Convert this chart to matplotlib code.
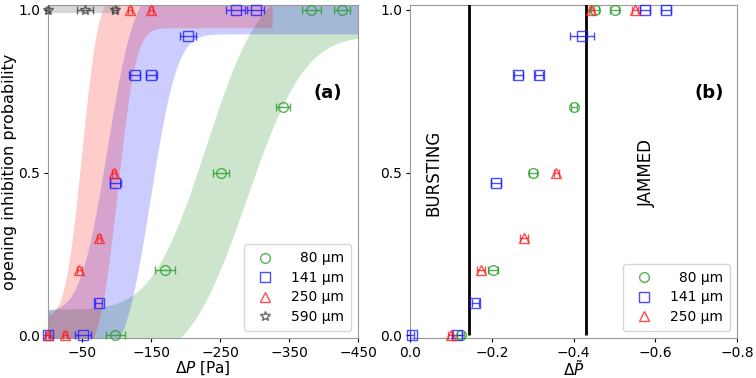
import math
import numpy as np
import matplotlib
matplotlib.use("Agg")
import matplotlib.pyplot as plt
from matplotlib.lines import Line2D

# ---- panel (a) data: dP [Pa], probability, x error ----
g_dp = [-98, -170, -251, -341, -382, -426]
g_pr = [0.0, 0.2, 0.5, 0.7, 1.0, 1.0]
g_er = [14, 14, 12, 10, 14, 12]

b_dp = [0, -51, -74, -98, -126, -150, -203, -272, -301]
b_pr = [0.0, 0.0, 0.1, 0.468, 0.8, 0.8, 0.918, 1.0, 1.0]
b_er = [4, 12, 5, 8, 8, 8, 12, 14, 12]

r_dp = [0, -25, -46, -74, -96, -119, -150]
r_pr = [0.0, 0.0, 0.2, 0.3, 0.5, 1.0, 1.0]
r_er = [2, 3, 3, 3, 3, 3, 3]

s_dp = [0, -54, -97]
s_pr = [1.0, 1.0, 1.0]
s_er = [2, 12, 4]

# fitted CDF bands: (offset, mu_upper, sigma_upper, mu_lower, sigma_lower, p_max)
g_fit = (0.08, 229, 62, 288, 66, 450)
b_fit = (0.074, 86, 31, 149, 30, 450)
r_fit = (0.055, 49, 19, 101, 21, 325)
s_band = (0.0, 105, 0.99, 1.03)

# ---- panel (b) data: normalised dP ----
g_dpn = [-0.124, -0.203, -0.30, -0.40, -0.453, -0.50]
g_prn = [0.0, 0.2, 0.5, 0.7, 1.0, 1.0]
g_ern = [0.008, 0.012, 0.01, 0.007, 0.01, 0.01]

b_dpn = [-0.005, -0.114, -0.16, -0.21, -0.265, -0.316, -0.42, -0.575, -0.625]
b_prn = [0.0, 0.0, 0.1, 0.468, 0.8, 0.8, 0.918, 1.0, 1.0]
b_ern = [0.005, 0.012, 0.008, 0.012, 0.01, 0.01, 0.03, 0.012, 0.012]

r_dpn = [-0.10, -0.173, -0.278, -0.357, -0.443, -0.55]
r_prn = [0.0, 0.2, 0.3, 0.5, 1.0, 1.0]
r_ern = [0.006, 0.01, 0.01, 0.006, 0.006, 0.008]

burst_line = -0.144
jam_line = -0.43

labels = ["\u200780 \u00b5m", "141 \u00b5m", "250 \u00b5m", "590 \u00b5m"]

green = "#2ca02c"
blue = "#2020ff"
red = "#ff2020"
gray = "#444444"


def cdf(p, mu, sig):
    return np.array([0.5 * (1 + math.erf((v - mu) / (sig * math.sqrt(2)))) for v in p])


def band(ax, fit, color):
    a, mu_u, s_u, mu_l, s_l, pmax = fit
    p = np.linspace(0, pmax, 400)
    up = a + cdf(p, mu_u, s_u)
    lo = cdf(p, mu_l, s_l) - a
    ax.fill_between(-p, lo, up, color=color, alpha=0.2, lw=0)


def pts(ax, x, y, e, color, marker, ms=7):
    ax.errorbar(x, y, xerr=e, fmt=marker, color=color, mfc="none", mec=color,
                ms=ms, capsize=3, elinewidth=1, alpha=0.8, clip_on=False, zorder=5)


fig = plt.figure(figsize=(7.56, 3.78), dpi=100)
ax1 = fig.add_axes([0.0631, 0.106, 0.411, 0.881])
ax2 = fig.add_axes([0.5423, 0.106, 0.433, 0.881])

band(ax1, g_fit, "green")
band(ax1, b_fit, "blue")
band(ax1, r_fit, "red")
ax1.fill_between([-s_band[0], -s_band[1]], s_band[2], s_band[3], color="gray", alpha=0.3, lw=0)

pts(ax1, g_dp, g_pr, g_er, green, "o")
pts(ax1, b_dp, b_pr, b_er, blue, "s")
pts(ax1, r_dp, r_pr, r_er, red, "^")
pts(ax1, s_dp, s_pr, s_er, gray, "*")

ax1.set_xlim(0, -450)
ax1.set_ylim(-0.008, 1.015)
ax1.set_xticks([-50, -150, -250, -350, -450])
ax1.set_yticks([0, 0.5, 1.0])
ax1.set_xlabel(r"$\Delta P$ [Pa]", fontsize=11, labelpad=0)
ax1.set_ylabel("opening inhibition probability", fontsize=11.5, labelpad=1)
ax1.text(-405, 0.745, "(a)", fontsize=13, fontweight="bold", ha="center", va="center")

h1 = [Line2D([], [], ls="none", marker=m, mfc="none", mec=c, ms=7, alpha=0.8)
      for m, c in zip(["o", "s", "^", "*"], [green, blue, red, gray])]
ax1.legend(h1, labels, loc="lower right", fontsize=10, handletextpad=0.9,
           borderpad=0.5, labelspacing=0.4, borderaxespad=0.5)

ax2.vlines([burst_line, jam_line], 0, 1.02, colors="black", lw=2, zorder=3)
pts(ax2, g_dpn, g_prn, g_ern, green, "o")
pts(ax2, b_dpn, b_prn, b_ern, blue, "s")
pts(ax2, r_dpn, r_prn, r_ern, red, "^")

ax2.set_xlim(0, -0.8)
ax2.set_ylim(-0.008, 1.015)
ax2.set_xticks([0, -0.2, -0.4, -0.6, -0.8])
ax2.set_yticks([0, 0.5, 1.0])
ax2.set_xlabel(r"$\Delta \tilde{P}$", fontsize=11, labelpad=0)
ax2.text(-0.058, 0.5, "BURSTING", rotation=90, fontsize=12, ha="center", va="center")
ax2.text(-0.579, 0.5, "JAMMED", rotation=90, fontsize=12, ha="center", va="center")
ax2.text(-0.731, 0.745, "(b)", fontsize=13, fontweight="bold", ha="center", va="center")
ax2.legend(h1[:3], labels[:3], loc="lower right", fontsize=10, handletextpad=0.9,
           borderpad=0.5, labelspacing=0.4, borderaxespad=0.5)

for ax in (ax1, ax2):
    ax.tick_params(labelsize=10, colors="black", length=3, pad=2.5)
    for sp in ax.spines.values():
        sp.set_color("#999999")

fig.savefig("out.png", dpi=100)
